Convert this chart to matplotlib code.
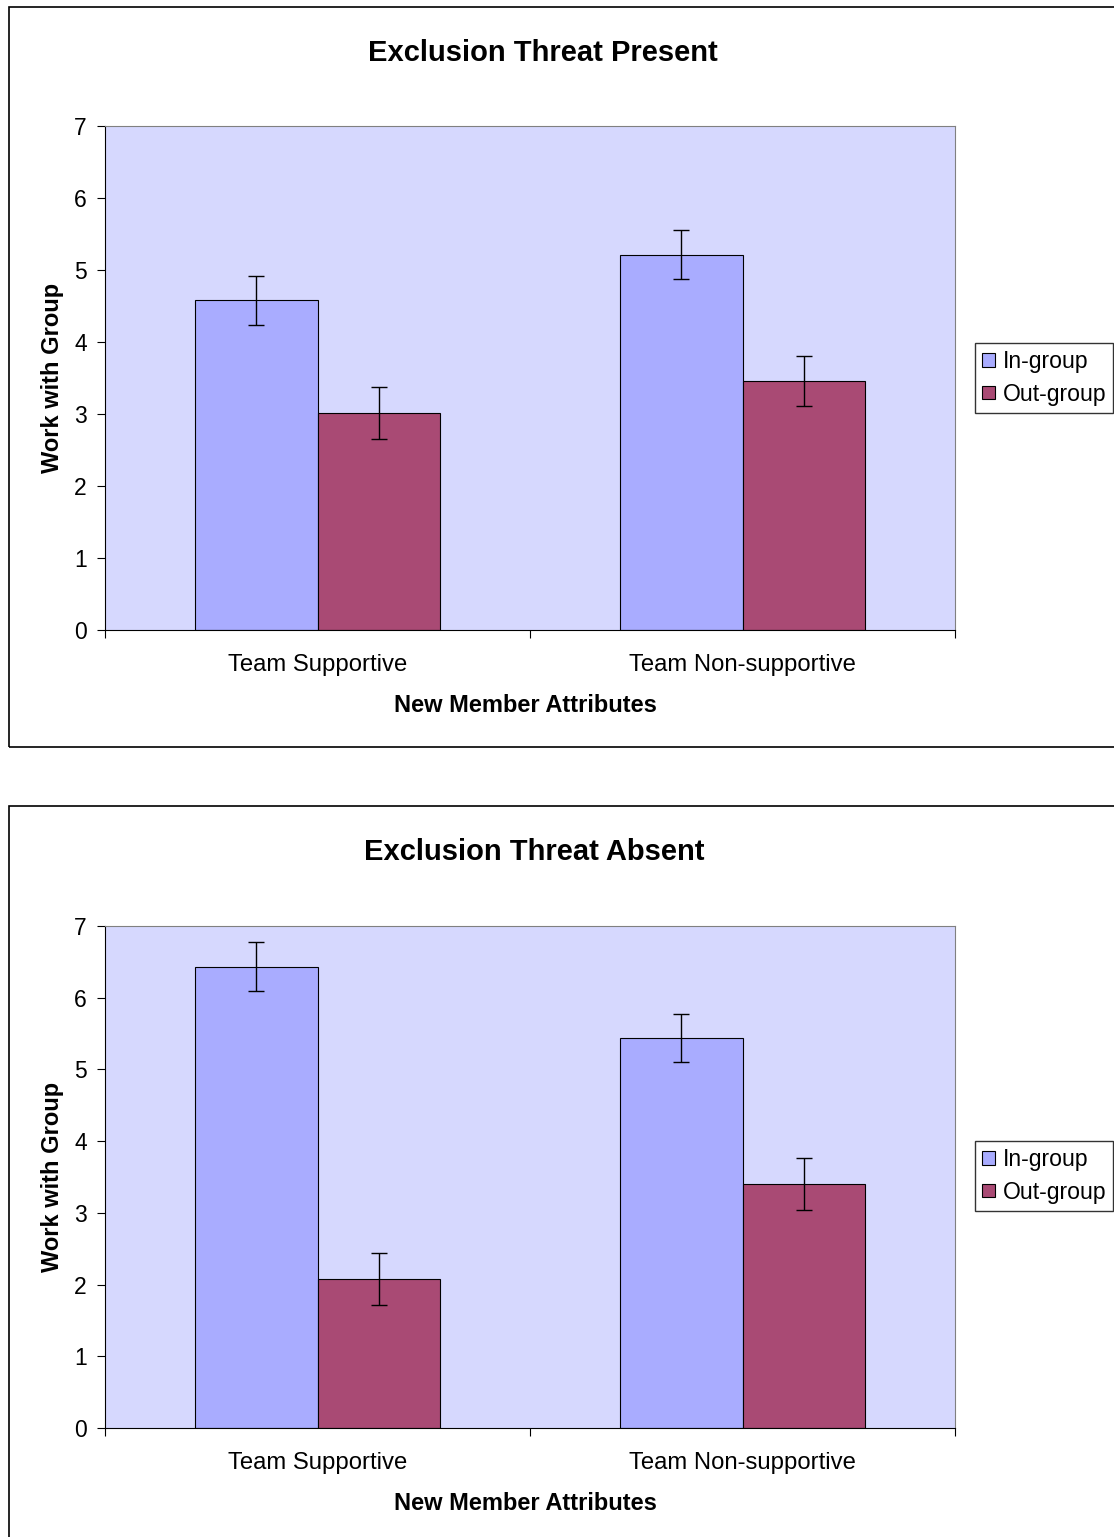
import matplotlib.pyplot as plt
from matplotlib.patches import Rectangle
import numpy as np

plt.rcParams['font.family'] = ['Liberation Sans', 'DejaVu Sans']

# ------- DATA -------
categories = ["Team Supportive", "Team Non-supportive"]
series = ["In-group", "Out-group"]

present_in = [4.58, 5.21]
present_out = [3.01, 3.46]
present_in_err = [0.34, 0.34]
present_out_err = [0.36, 0.35]

absent_in = [6.43, 5.44]
absent_out = [2.08, 3.40]
absent_in_err = [0.34, 0.33]
absent_out_err = [0.36, 0.36]

titles = ["Exclusion Threat Present", "Exclusion Threat Absent"]

in_color = "#a9acff"
out_color = "#a94a74"
bg_color = "#d6d8fe"

fig = plt.figure(figsize=(11.14, 15.37), dpi=100)

# chart frames (cut off at the right / bottom like the original)
fig.patches.append(Rectangle((9/1114, 1-747/1537), 1.2, 740/1537, transform=fig.transFigure,
                             fill=False, edgecolor="black", linewidth=1.2))
fig.patches.append(Rectangle((9/1114, -0.2), 1.2, 0.2 + 1-806/1537, transform=fig.transFigure,
                             fill=False, edgecolor="black", linewidth=1.2))


def draw_chart(ax, vin, vout, ein, eout, title, title_x, title_y, legend_y):
    x = np.array([0.5, 1.5])
    w = 0.289
    ax.set_facecolor(bg_color)
    b1 = ax.bar(x - w/2, vin, w, color=in_color, edgecolor="black", linewidth=0.8, label=series[0])
    b2 = ax.bar(x + w/2, vout, w, color=out_color, edgecolor="black", linewidth=0.8, label=series[1])
    ax.errorbar(x - w/2, vin, yerr=ein, fmt="none", ecolor="black", elinewidth=1, capsize=6, capthick=1)
    ax.errorbar(x + w/2, vout, yerr=eout, fmt="none", ecolor="black", elinewidth=1, capsize=6, capthick=1)
    ax.set_xlim(0, 2)
    ax.set_ylim(0, 7)
    ax.set_yticks(range(0, 8))
    ax.set_xticks([0, 1, 2], minor=False)
    ax.set_xticklabels(["", "", ""])
    ax.set_xticks([0.5, 1.5], minor=True)
    ax.set_xticklabels(categories, minor=True, fontsize=17.2)
    ax.tick_params(axis="x", which="minor", length=0, pad=17)
    ax.tick_params(axis="x", which="major", length=6, direction="out")
    ax.tick_params(axis="y", labelsize=16.5, length=6, direction="out", pad=7)
    ax.spines["top"].set_color("#808080")
    ax.spines["right"].set_color("#808080")
    ax.set_xlabel("New Member Attributes", fontsize=17, fontweight="bold", labelpad=13)
    ax.xaxis.label.set_x(0.495)
    ax.set_ylabel("Work with Group", fontsize=17, fontweight="bold", labelpad=7)
    fig.text(title_x, title_y, title, fontsize=21, fontweight="bold", ha="center", va="center")
    leg = fig.legend(handles=[b1, b2], labels=series, loc="center left",
                     bbox_to_anchor=(975/1114, legend_y), fontsize=16.6, frameon=True,
                     fancybox=False, edgecolor="black", handlelength=0.55, handleheight=0.55,
                     handletextpad=0.35, borderpad=0.3, labelspacing=0.4, borderaxespad=0)
    leg.get_frame().set_linewidth(1)
    leg._legend_box.sep = 0


ax1 = fig.add_axes([105/1114, 1-630/1537, 850/1114, 504/1537])
draw_chart(ax1, present_in, present_out, present_in_err, present_out_err, titles[0],
           543/1114, 1-53/1537, 1-378/1537)

ax2 = fig.add_axes([105/1114, 1-1428/1537, 850/1114, 502/1537])
draw_chart(ax2, absent_in, absent_out, absent_in_err, absent_out_err, titles[1],
           534/1114, 1-852/1537, 1-1176/1537)

fig.savefig("out.png", dpi=100)
